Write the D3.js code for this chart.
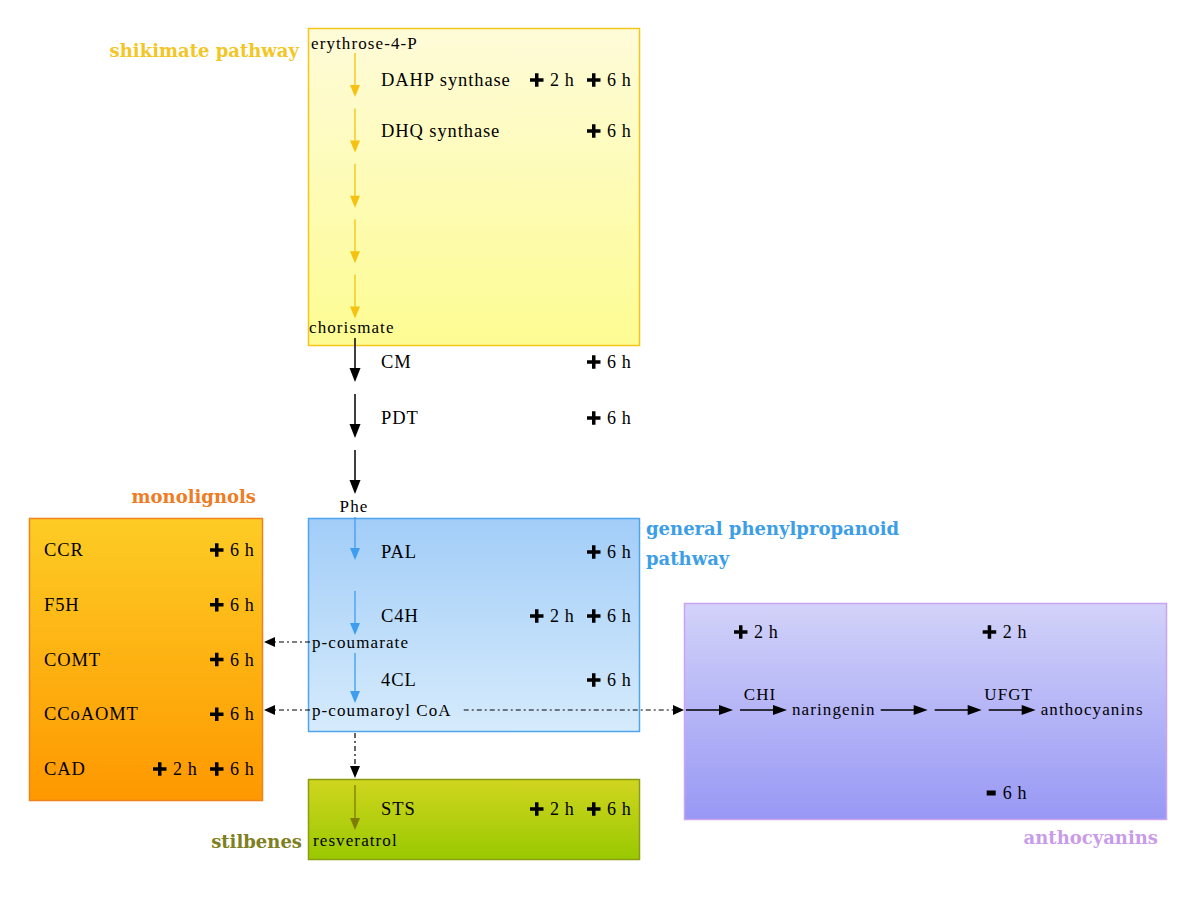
<!DOCTYPE html>
<html><head><meta charset="utf-8">
<script src="https://cdn.jsdelivr.net/npm/d3@7"></script>
<style>
body{margin:0;background:#fff}
svg{display:block}
.met{font-family:"Liberation Serif","Times New Roman",serif;font-size:17px;letter-spacing:1.1px;fill:#000}
.enz{font-family:"Liberation Serif","Times New Roman",serif;font-size:18.5px;letter-spacing:0.9px;fill:#000}
.time{font-family:"Liberation Serif","Times New Roman",serif;font-size:18px;letter-spacing:0.6px;fill:#000}
.title{font-family:"DejaVu Serif",serif;font-size:18px;font-weight:bold}
</style></head>
<body><svg id="c" width="1200" height="908"></svg>
<script>
// ---------------- DATA ----------------
const timePoints = ["2 h", "6 h"];

const shikimateMetabolites = ["erythrose-4-P", "chorismate"];
const shikimateSteps = ["DAHP synthase", "DHQ synthase", "", "", ""];
const shikimateInduced = [["2 h", "6 h"], ["6 h"], [], [], []];

const aroEnzymes = ["CM", "PDT", ""];
const aroInduced = [["6 h"], ["6 h"], []];
const aroProduct = "Phe";

const generalNodes = ["Phe", "", "p-coumarate", "p-coumaroyl CoA"];
const generalEnzymes = ["PAL", "C4H", "4CL"];
const generalInduced = [["6 h"], ["2 h", "6 h"], ["6 h"]];

const monolignolEnzymes = ["CCR", "F5H", "COMT", "CCoAOMT", "CAD"];
const monolignolInduced = [["6 h"], ["6 h"], ["6 h"], ["6 h"], ["2 h", "6 h"]];

const stilbeneEnzymes = ["STS"];
const stilbeneInduced = [["2 h", "6 h"]];
const stilbeneProduct = "resveratrol";

const anthoChain = [
  {type: "arrow", enzyme: ""},
  {type: "arrow", enzyme: "CHI"},
  {type: "met", name: "naringenin"},
  {type: "arrow", enzyme: ""},
  {type: "arrow", enzyme: ""},
  {type: "arrow", enzyme: "UFGT"},
  {type: "met", name: "anthocyanins"}
];
const anthoRegulation = [
  {enzyme: "CHI", dir: "up", time: "2 h"},
  {enzyme: "UFGT", dir: "up", time: "2 h"},
  {enzyme: "UFGT", dir: "down", time: "6 h"}
];

const groupTitles = {
  shikimate: ["shikimate pathway"],
  monolignols: ["monolignols"],
  general: ["general phenylpropanoid", "pathway"],
  stilbenes: ["stilbenes"],
  anthocyanins: ["anthocyanins"]
};

// ---------------- LAYOUT / STYLE ----------------
const C = {
  yellowTop: "#fefbd9", yellowBot: "#fdfc92", yellowLine: "#f3c61c", yellowArrow: "#f5c211", yellowTitle: "#f3c623",
  blueTop: "#a2cdf8", blueBot: "#d6ebfc", blueLine: "#4ea5ee", blueArrow: "#3f9df0", blueTitle: "#3d9ee8",
  orangeTop: "#fdcc24", orangeBot: "#fe9800", orangeLine: "#f0821e", orangeTitle: "#ef7b22",
  greenTop: "#d0d51f", greenBot: "#99c900", greenLine: "#8c9c12", greenArrow: "#7d7d00", greenTitle: "#7f8020",
  purpleTop: "#d2d2f9", purpleBot: "#9898f5", purpleLine: "#cca2f2", purpleTitle: "#c99ce9"
};
const boxes = {
  shikimate: {x: 308, y: 28, w: 331, h: 317, top: C.yellowTop, bot: C.yellowBot, line: C.yellowLine},
  general: {x: 308, y: 518, w: 331, h: 213, top: C.blueTop, bot: C.blueBot, line: C.blueLine},
  monolignols: {x: 29, y: 518, w: 233, h: 282, top: C.orangeTop, bot: C.orangeBot, line: C.orangeLine},
  stilbenes: {x: 308, y: 779, w: 331, h: 80, top: C.greenTop, bot: C.greenBot, line: C.greenLine},
  anthocyanins: {x: 684, y: 603, w: 482, h: 216, top: C.purpleTop, bot: C.purpleBot, line: C.purpleLine}
};
const spineX = 355;
const enzX = 381;

const svg = d3.select("#c");
const defs = svg.append("defs");

Object.entries(boxes).forEach(([k, b]) => {
  const g = defs.append("linearGradient").attr("id", "g-" + k)
    .attr("x1", 0).attr("y1", 0).attr("x2", 0).attr("y2", 1);
  g.append("stop").attr("offset", "0%").attr("stop-color", b.top);
  g.append("stop").attr("offset", "100%").attr("stop-color", b.bot);
  svg.append("rect").attr("x", b.x + 0.5).attr("y", b.y + 0.5).attr("width", b.w).attr("height", b.h)
    .attr("fill", `url(#g-${k})`).attr("stroke", b.line).attr("stroke-width", 1.5);
});

const layer = svg.append("g");

function text(x, y, t, cls, anchor) {
  return layer.append("text").attr("x", x).attr("y", y).attr("class", cls)
    .attr("text-anchor", anchor || "start").text(t);
}
function vArrow(x, y1, y2, color, opt = {}) {
  const head = opt.head || 12, half = opt.half || 5, w = opt.width || 1.4;
  layer.append("line").attr("x1", x).attr("x2", x).attr("y1", y1).attr("y2", y2 - head + 1)
    .attr("stroke", color).attr("stroke-width", w).attr("stroke-dasharray", opt.dash || null);
  layer.append("path").attr("d", `M${x - half},${y2 - head}L${x + half},${y2 - head}L${x},${y2}Z`).attr("fill", color);
}
function hArrow(x1, x2, y, color, opt = {}) {
  const head = opt.head || 13, half = opt.half || 5, w = opt.width || 1.4;
  const dir = x2 > x1 ? 1 : -1;
  layer.append("line").attr("x1", x1).attr("x2", x2 - dir * (head - 1)).attr("y1", y).attr("y2", y)
    .attr("stroke", color).attr("stroke-width", w).attr("stroke-dasharray", opt.dash || null);
  layer.append("path").attr("d", `M${x2 - dir * head},${y - half}L${x2 - dir * head},${y + half}L${x2},${y}Z`).attr("fill", color);
}
function plus(x, cy) {
  layer.append("rect").attr("x", x).attr("y", cy - 1.75).attr("width", 13.5).attr("height", 3.5).attr("fill", "#000");
  layer.append("rect").attr("x", x + 5).attr("y", cy - 6.75).attr("width", 3.5).attr("height", 13.5).attr("fill", "#000");
}
function minus(x, cy) {
  layer.append("rect").attr("x", x).attr("y", cy - 2.5).attr("width", 9).attr("height", 5).attr("fill", "#000");
}
function tags(rightEdge, cy, list) {
  const tx = d3.scalePoint().domain(timePoints).range([rightEdge - 109, rightEdge - 52]);
  list.forEach(t => { plus(tx(t), cy); text(tx(t) + 20, cy + 6, t, "time"); });
}
const right = b => b.x + b.w;

// ---- shikimate pathway ----
const bS = boxes.shikimate;
const yS = d3.scaleLinear().domain([0, shikimateSteps.length]).range([47, 324]);
const yRowS = d3.scaleLinear().domain([0, 1]).range([80, 131]);
shikimateSteps.forEach((e, i) => {
  vArrow(spineX, yS(i) + 6, yS(i) + 50, C.yellowArrow, {head: 12, half: 5, width: 1.3});
  if (e) { text(enzX, yRowS(i) + 6, e, "enz"); tags(right(bS), yRowS(i), shikimateInduced[i]); }
});
text(bS.x + 3, 49, shikimateMetabolites[0], "met");
text(bS.x + 1, 333, shikimateMetabolites[1], "met");

// ---- chorismate -> Phe ----
const yA = d3.scaleLinear().domain([0, aroEnzymes.length]).range([332, 500]);
aroEnzymes.forEach((e, i) => {
  vArrow(spineX, yA(i) + 6, yA(i) + 50, "#000", {head: 14, half: 5.5, width: 1.5});
  if (e) { text(enzX, yA(i) + 36, e, "enz"); tags(right(bS), yA(i) + 30, aroInduced[i]); }
});
text(spineX - 1, 512, aroProduct, "met", "middle");

// ---- general phenylpropanoid ----
const bG = boxes.general;
const yG = d3.scaleLinear().domain([0, generalNodes.length - 1]).range([507, 711]);
const yRowG = d3.scaleLinear().domain([0, generalEnzymes.length - 1]).range([552, 680]);
const metTexts = {};
generalEnzymes.forEach((e, i) => {
  const s = yG(i) + (generalNodes[i] ? 10 : 16);
  const t = yG(i + 1) - (generalNodes[i + 1] ? 8 : 15);
  vArrow(spineX, s, t, C.blueArrow, {head: 12, half: 5, width: 1.3});
  const cy = yRowG(i);
  text(enzX, cy + 6, e, "enz");
  tags(right(bG), cy, generalInduced[i]);
});
generalNodes.forEach((n, i) => {
  if (i > 0 && n) metTexts[n] = text(bG.x + 4, yG(i) + 5, n, "met");
});

// side branches
const coumarateY = yG(2) - 1, coaY = yG(3) - 1;
const bM = boxes.monolignols;
const dd = "5,3,2,3";
hArrow(bG.x + 2, right(bM) + 2, coumarateY, "#000", {head: 11, half: 5, width: 1.2, dash: dd});
hArrow(bG.x + 2, right(bM) + 2, coaY, "#000", {head: 11, half: 5, width: 1.2, dash: dd});
const coaEnd = bG.x + 4 + metTexts["p-coumaroyl CoA"].node().getComputedTextLength();
const bA = boxes.anthocyanins;
hArrow(coaEnd + 12, bA.x, coaY, "#000", {head: 11, half: 5, width: 1.2, dash: dd});
vArrow(spineX, bG.y + bG.h + 2, boxes.stilbenes.y - 1, "#000", {head: 12, half: 5, width: 1.2, dash: dd});

// ---- monolignols ----
const yM = d3.scaleLinear().domain([0, monolignolEnzymes.length - 1]).range([550, 769]);
monolignolEnzymes.forEach((e, i) => {
  text(bM.x + 15, yM(i) + 6, e, "enz");
  tags(right(bM), yM(i), monolignolInduced[i]);
});

// ---- stilbenes ----
const bT = boxes.stilbenes;
vArrow(spineX, bT.y + 6, bT.y + 51, C.greenArrow, {head: 12, half: 5, width: 1.3});
text(enzX, 815, stilbeneEnzymes[0], "enz");
tags(right(bT), 809, stilbeneInduced[0]);
text(bT.x + 5, 846, stilbeneProduct, "met");

// ---- anthocyanins ----
const chainY = coaY;
let cx = bA.x + 2;
const enzCenter = {};
anthoChain.forEach((it, i) => {
  const next = anthoChain[i + 1];
  if (it.type === "arrow") {
    hArrow(cx, cx + 47, chainY, "#000", {head: 14, half: 5, width: 1.5});
    if (it.enzyme) {
      const c = cx + 20;
      text(c, chainY - 10, it.enzyme, "met", "middle");
      enzCenter[it.enzyme] = c;
    }
    cx += 47 + (next && next.type === "arrow" ? 7 : 5);
  } else {
    const t = text(cx, chainY + 5, it.name, "met");
    cx += t.node().getComputedTextLength() + 5;
  }
});
anthoRegulation.forEach(r => {
  const c = enzCenter[r.enzyme];
  if (r.dir === "up") { plus(c - 26, 632); text(c - 6, 638, r.time, "time"); }
  else { minus(c - 22, 793); text(c - 6, 799, r.time, "time"); }
});

// ---- group titles ----
text(299, 57, groupTitles.shikimate[0], "title", "end").attr("fill", C.yellowTitle);
text(256, 503, groupTitles.monolignols[0], "title", "end").attr("fill", C.orangeTitle);
groupTitles.general.forEach((t, i) => text(646, 535 + i * 30, t, "title").attr("fill", C.blueTitle));
text(302, 848, groupTitles.stilbenes[0], "title", "end").attr("fill", C.greenTitle);
text(1158, 844, groupTitles.anthocyanins[0], "title", "end").attr("fill", C.purpleTitle);
</script>
</body></html>
